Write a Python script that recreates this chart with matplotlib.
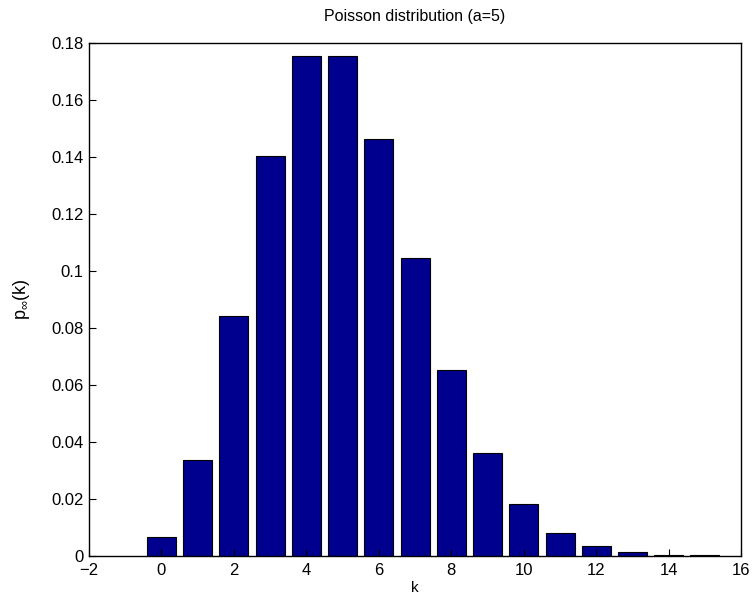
import numpy as np
import matplotlib.pyplot as plt

plt.rcParams['font.family'] = ['Liberation Sans', 'DejaVu Sans']
plt.rcParams['mathtext.fontset'] = 'custom'
plt.rcParams['mathtext.rm'] = 'Liberation Sans'
plt.rcParams['mathtext.it'] = 'Liberation Sans'

# values
k = [0, 1, 2, 3, 4, 5, 6, 7, 8, 9, 10, 11, 12, 13, 14, 15]
p = [0.0067, 0.0337, 0.0842, 0.1404, 0.1755, 0.1755, 0.1462, 0.1044,
     0.0653, 0.0363, 0.0181, 0.0082, 0.0034, 0.0013, 0.0005, 0.0002]
xticks = [-2, 0, 2, 4, 6, 8, 10, 12, 14, 16]
yticks = [0, 0.02, 0.04, 0.06, 0.08, 0.1, 0.12, 0.14, 0.16, 0.18]
yticklabels = ['0', '0.02', '0.04', '0.06', '0.08', '0.1', '0.12', '0.14', '0.16', '0.18']

fig = plt.figure(figsize=(7.54, 6.0), dpi=100)
ax = fig.add_axes([0.118, 0.0733, 0.865, 0.855])

ax.bar(k, p, width=0.8, color='#00008F', edgecolor='black', linewidth=0.8)

ax.set_xlim(-2, 16)
ax.set_ylim(0, 0.18)
ax.set_xticks(xticks)
ax.set_xticklabels(['\u22122' if t < 0 else str(t) for t in xticks])
ax.set_yticks(yticks)
ax.set_yticklabels(yticklabels)
ax.tick_params(direction='in', length=5, labelsize=12, width=0.8)
ax.tick_params(axis='x', pad=5)
ax.tick_params(axis='y', pad=4)
for s in ax.spines.values():
    s.set_linewidth(1.0)

ax.set_title('Poisson distribution (a=5)', fontsize=11.5, pad=16)
ax.set_xlabel('k', fontsize=11, labelpad=2)
ax.set_ylabel(r'p$_\infty$(k)', fontsize=13, labelpad=14)

fig.savefig('out.png', dpi=100)
